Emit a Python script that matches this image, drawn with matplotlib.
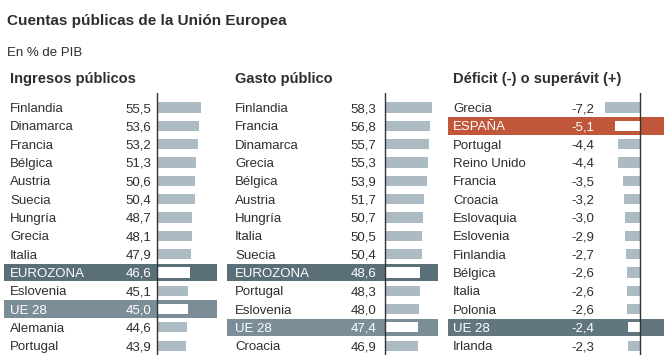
import matplotlib
matplotlib.use("Agg")
import matplotlib.pyplot as plt

# ---------------- data ----------------
ing_countries = ["Finlandia", "Dinamarca", "Francia", "Bélgica", "Austria", "Suecia",
                 "Hungría", "Grecia", "Italia", "EUROZONA", "Eslovenia", "UE 28",
                 "Alemania", "Portugal"]
ing_values = [55.5, 53.6, 53.2, 51.3, 50.6, 50.4, 48.7, 48.1, 47.9, 46.6, 45.1, 45.0, 44.6, 43.9]

gas_countries = ["Finlandia", "Francia", "Dinamarca", "Grecia", "Bélgica", "Austria",
                 "Hungría", "Italia", "Suecia", "EUROZONA", "Portugal", "Eslovenia",
                 "UE 28", "Croacia"]
gas_values = [58.3, 56.8, 55.7, 55.3, 53.9, 51.7, 50.7, 50.5, 50.4, 48.6, 48.3, 48.0, 47.4, 46.9]

def_countries = ["Grecia", "ESPAÑA", "Portugal", "Reino Unido", "Francia", "Croacia",
                 "Eslovaquia", "Eslovenia", "Finlandia", "Bélgica", "Italia", "Polonia",
                 "UE 28", "Irlanda"]
def_values = [-7.2, -5.1, -4.4, -4.4, -3.5, -3.2, -3.0, -2.9, -2.7, -2.6, -2.6, -2.6, -2.4, -2.3]

titles = ["Ingresos públicos", "Gasto público", "Déficit (-) o superávit (+)"]

# ---------------- style ----------------
FONT = ["Liberation Sans", "DejaVu Sans"]
plt.rcParams["font.family"] = FONT
TXT = "#2e2e2e"
BAR = "#acbac4"
HL = {"EUROZONA": "#5b6f79", "UE 28": "#7b8e98", "ESPAÑA": "#c0573b"}

W, H = 664, 355
fig = plt.figure(figsize=(W / 100, H / 100), dpi=100)
fig.patch.set_facecolor("white")

AX_TOP = 93
ROW0, PITCH = 107.5, 18.32


def fmt(v):
    return f"{v:.1f}".replace(".", ",")


def panel(countries, values, base, xlim, left_px, right_px, label_px, value_px, hl):
    ax = fig.add_axes([left_px / W, 0, (right_px - left_px) / W, (H - AX_TOP) / H])
    ax.set_xlim(*xlim)
    ax.set_ylim((H - ROW0) / PITCH, (AX_TOP - ROW0) / PITCH)
    ax.axis("off")
    wpx = right_px - left_px
    lx = (label_px - left_px) / wpx
    vx = (value_px - left_px) / wpx
    for i, (c, v) in enumerate(zip(countries, values)):
        band = hl.get(c)
        if band:
            ax.axhspan(i - 0.475, i + 0.475, color=band, lw=0, zorder=1)
        ax.barh(i, v - base, left=base, height=0.56,
                color="white" if band else BAR, lw=0, zorder=2)
        tc = "white" if band else TXT
        ax.text(lx, i, c, transform=ax.get_yaxis_transform(), ha="left",
                va="center_baseline", fontsize=9.5, color=tc, zorder=3)
        ax.text(vx, i, fmt(v), transform=ax.get_yaxis_transform(), ha="right",
                va="center_baseline", fontsize=9.5, color=tc, zorder=3)
    ax.axvline(base, color="#333333", lw=1.0, zorder=4)
    return ax


panel(ing_countries, ing_values, 20.5, (-99.6, 68.1), 4, 217, 10, 151.5,
      {"EUROZONA": HL["EUROZONA"], "UE 28": HL["UE 28"]})
panel(gas_countries, gas_values, 21.05, (-103.6, 62.8), 226.7, 438, 235, 376,
      {"EUROZONA": HL["EUROZONA"], "UE 28": HL["UE 28"]})
panel(def_countries, def_values, 0.0, (-39.5, 5.05), 448, 664, 453, 594,
      {"ESPAÑA": HL["ESPAÑA"], "UE 28": "#62767f"})

# ---------------- texts ----------------
fig.text(7 / W, 1 - 19 / H, "Cuentas públicas de la Unión Europea",
         fontweight="bold", fontsize=11, color=TXT, va="center_baseline", ha="left")
fig.text(7 / W, 1 - 52 / H, "En % de PIB", fontsize=9.5, color=TXT,
         va="center_baseline", ha="left")
for x, t in zip([10, 235, 453], titles):
    fig.text(x / W, 1 - 77 / H, t, fontsize=10.5, fontweight="bold",
             color=TXT, va="center_baseline", ha="left")

fig.savefig("out.png", dpi=100, facecolor="white")
